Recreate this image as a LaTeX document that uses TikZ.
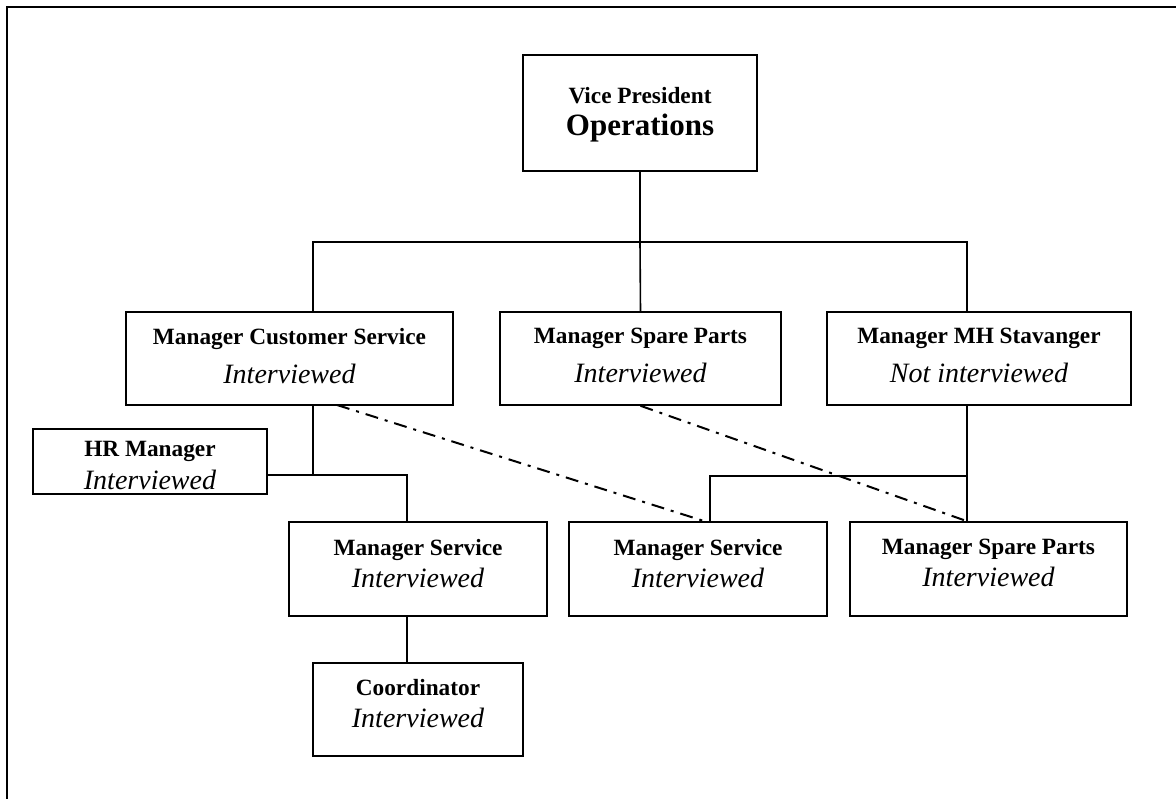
\documentclass[tikz,border=0pt]{standalone}
\usepackage{fontspec}
\setmainfont{Liberation Serif}
\newcommand\boldline{\fontsize{23.3}{39}\selectfont\bfseries}
\newcommand\statusline{\fontsize{28}{39}\selectfont\itshape}
\begin{document}
\begin{tikzpicture}[x=1pt,y=-1pt,
  box/.style={draw, line width=1.6pt, rectangle, inner sep=0pt, align=center},
  link/.style={line width=1.6pt},
  dotlink/.style={line width=2pt, dash pattern=on 13pt off 7pt on 3pt off 7pt}]
\useasboundingbox (0,0) rectangle (1176,799);
% page frame (top and left edges)
\draw[line width=2.5pt] (7,799) -- (7,7) -- (1176,7);

% top
\node[box, minimum width=234, minimum height=116, text depth=4pt,
      font=\fontsize{23.3}{32}\selectfont] (vp) at (640,113)
  {\textbf{Vice President}\\{\fontsize{31}{32}\selectfont\bfseries Operations}};

% second level
\node[box, minimum width=327, minimum height=93, text depth=6pt,
      font=\fontsize{23.3}{39}\selectfont] (cs) at (289.5,358.5)
  {{\boldline Manager Customer Service}\\{\statusline Interviewed}};
\node[box, minimum width=281, minimum height=93, text depth=6pt,
      font=\fontsize{23.3}{39}\selectfont] (sp) at (640.5,358.5)
  {{\boldline Manager Spare Parts}\\{\statusline Interviewed}};
\node[box, minimum width=304, minimum height=93, text depth=6pt,
      font=\fontsize{23.3}{39}\selectfont] (mh) at (979,358.5)
  {{\boldline Manager MH Stavanger}\\{\statusline Not interviewed}};

% third level
\node[box, minimum width=234, minimum height=65,
      font=\fontsize{23.3}{33}\selectfont] (hr) at (150,461.5)
  {{\fontsize{23.3}{33}\selectfont\bfseries\rule{0pt}{24pt}HR Manager}\\{\fontsize{28}{33}\selectfont\itshape Interviewed}};
\node[box, minimum width=258, minimum height=94, text depth=12pt,
      font=\fontsize{23.3}{32}\selectfont] (msl) at (418,569)
  {{\fontsize{23.3}{32}\selectfont\bfseries Manager Service}\\{\fontsize{28}{32}\selectfont\itshape Interviewed}};
\node[box, minimum width=258, minimum height=94, text depth=12pt,
      font=\fontsize{23.3}{32}\selectfont] (msm) at (698,569)
  {{\fontsize{23.3}{32}\selectfont\bfseries Manager Service}\\{\fontsize{28}{32}\selectfont\itshape Interviewed}};
\node[box, minimum width=277, minimum height=94, text depth=12pt,
      font=\fontsize{23.3}{32}\selectfont] (spr) at (988.5,569)
  {{\fontsize{23.3}{32}\selectfont\bfseries Manager Spare Parts}\\{\fontsize{28}{32}\selectfont\itshape Interviewed}};

% fourth level
\node[box, minimum width=210, minimum height=93, text depth=12pt,
      font=\fontsize{23.3}{32}\selectfont] (co) at (418,709.5)
  {{\fontsize{23.3}{32}\selectfont\bfseries Coordinator}\\{\fontsize{28}{32}\selectfont\itshape Interviewed}};

% junction points
\coordinate (busL) at (313,242);
\coordinate (busM) at (640,242);
\coordinate (busR) at (967,242);
\coordinate (csJ) at (313,475);
\coordinate (hrJ) at (407,475);
\coordinate (mhJ) at (967,476);
\coordinate (msJ) at (710,476);

% solid reporting lines
\draw[link] (vp.south) -- (busM);
\draw[link] (busL |- cs.north) -- (busL) -- (busR) -- (busR |- mh.north);
\draw[link] (busM) -- (sp.north);
\draw[link] (csJ |- cs.south) -- (csJ);
\draw[link] (hr.east |- hrJ) -- (hrJ) -- (hrJ |- msl.north);
\draw[link] (hrJ |- msl.south) -- (hrJ |- co.north);
\draw[link] (mhJ |- mh.south) -- (mhJ |- spr.north);
\draw[link] (mhJ) -- (msJ) -- (msJ |- msm.north);

% dash-dotted functional lines
\coordinate (csD) at (337,405);
\coordinate (msD) at (707,522);
\draw[dotlink] (csD) -- (msD);
\draw[dotlink] (sp.south) -- (mhJ |- spr.north);
\end{tikzpicture}
\end{document}
